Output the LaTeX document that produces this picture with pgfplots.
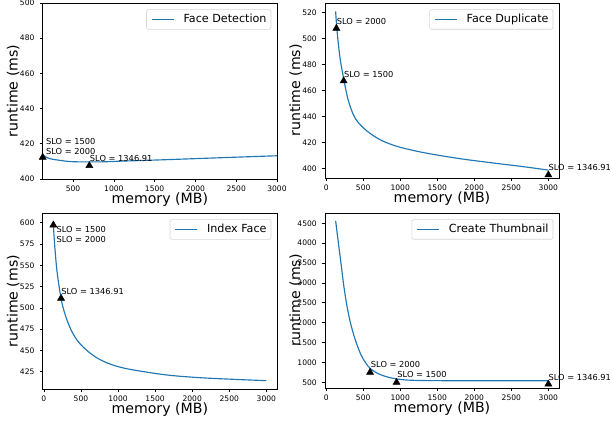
\documentclass[border=0pt]{standalone}
\usepackage{fontspec}
\setmainfont{DejaVu Sans}
\usepackage{pgfplots}
\pgfplotsset{compat=1.18}
\definecolor{mplblue}{HTML}{1F77B4}
\definecolor{legedge}{HTML}{D6D6D6}

\pgfplotsset{
  panel/.style={
    scale only axis,
    anchor=south west,
    axis line style={black, line width=0.65bp},
    tick style={black, line width=0.65bp},
    tick align=outside,
    major tick length=2.7bp,
    tick pos=left,
    tick label style={font=\fontsize{7.6}{9}\selectfont, inner sep=0pt},
    xticklabel style={yshift=-4.4bp},
    yticklabel style={xshift=-5.4bp},
    /pgf/number format/assume math mode=true,
    /pgf/number format/1000 sep={},
    scaled ticks=false,
    xlabel={memory (MB)},
    ylabel={runtime (ms)},
    label style={font=\fontsize{14.2}{16}\selectfont},
    xlabel style={at={(axis description cs:0.5,-0.1155)}, anchor=center},
    ylabel style={at={(axis description cs:-0.1255,0.5)}, anchor=center},
    clip=false,
    legend cell align=left,
    legend image code/.code={\draw[#1] (0bp,0bp) -- (22.4bp,0bp);},
    legend style={at={(0.976,0.964)}, anchor=north east, draw=legedge,
      line width=0.65bp, rounded corners=2.2bp, fill=white,
      inner xsep=4.5bp, inner ysep=4.5bp,
      font=\fontsize{11.2}{13}\selectfont,
      nodes={inner sep=0pt, text height=8.3bp, text depth=2.4bp},
      /tikz/every odd column/.append style={column sep=9bp}},
  },
  curve/.style={mplblue, line width=1.15bp, no markers, smooth, tension=0.55},
  slo/.style={only marks, mark=triangle*, mark size=4.1bp, black, forget plot},
}
\tikzset{ann/.style={anchor=base west, inner sep=0pt, font=\fontsize{8.3}{10}\selectfont}}

\begin{document}
\begin{tikzpicture}
\useasboundingbox (0bp,0bp) rectangle (612bp,421bp);

% top left: Face Detection
\begin{axis}[panel, at={(42.7bp,242bp)}, width=234.3bp, height=176bp,
  xmin=128, xmax=3000, ymin=400, ymax=500,
  xtick={500,1000,1500,2000,2500,3000},
  ytick={400,420,440,460,480,500}]
\addplot[curve] coordinates {
  (128,413.6) (180,412.2) (240,411.3) (310,410.8) (400,410.2) (512,409.8)
  (716,409.7) (900,409.8) (1122,410.2) (1530,410.8) (2140,411.8)
  (2560,412.5) (3000,413.2)};
\addlegendentry{Face Detection}
\addplot[slo] coordinates {(128,412.3) (700,407.6)};
\node[ann] at (axis cs:168,419.5) {SLO = 1500};
\node[ann] at (axis cs:168,414.2) {SLO = 2000};
\node[ann] at (axis cs:705,409.7) {SLO = 1346.91};
\end{axis}

% top right: Face Duplicate
\begin{axis}[panel, at={(325bp,243bp)}, width=234bp, height=175bp,
  xmin=-15.6, xmax=3143.6, ymin=392.5, ymax=527.5,
  xtick={0,500,1000,1500,2000,2500,3000},
  ytick={400,420,440,460,480,500,520}]
\addplot[curve] coordinates {
  (128,521) (140,511) (160,498.5) (190,484) (240,468) (285,455.5)
  (320,448.5) (374,440.5) (430,435.5) (508,430.9) (600,426.6)
  (732,421.9) (850,419) (1000,416.2) (1313,412.1)
  (1760,407.8) (2208,404.4) (2655,401.3) (3000,398.6)};
\addlegendentry{Face Duplicate}
\addplot[slo] coordinates {(138,508) (236,467.4) (3000,394.9)};
\node[ann] at (axis cs:142,511.1) {SLO = 2000};
\node[ann] at (axis cs:240,469.9) {SLO = 1500};
\node[ann] at (axis cs:3000,398.4) {SLO = 1346.91};
\end{axis}

% bottom left: Index Face
\begin{axis}[panel, at={(42.7bp,32bp)}, width=234.3bp, height=176bp,
  xmin=-15.6, xmax=3143.6, ymin=404.7, ymax=611.4,
  xtick={0,500,1000,1500,2000,2500,3000},
  ytick={425,450,475,500,525,550,575,600}]
\addplot[curve] coordinates {
  (128,597) (150,569) (180,541) (232,511) (270,497) (312,485.8)
  (370,473.5) (446,462.3) (530,454) (625,446.7) (730,440.5) (849,435.5)
  (1000,431) (1206,427.1) (1654,421.2) (2101,418)
  (2548,416.1) (3000,414.5)};
\addlegendentry{Index Face}
\addplot[slo] coordinates {(128,597.3) (232,511.2)};
\node[ann] at (axis cs:168,588.3) {SLO = 1500};
\node[ann] at (axis cs:168,577.3) {SLO = 2000};
\node[ann] at (axis cs:234,516) {SLO = 1346.91};
\end{axis}

% bottom right: Create Thumbnail
\begin{axis}[panel, at={(325bp,33bp)}, width=234bp, height=175bp,
  xmin=-15.6, xmax=3143.6, ymin=357, ymax=4759,
  xtick={0,500,1000,1500,2000,2500,3000},
  ytick={500,1000,1500,2000,2500,3000,3500,4000,4500}]
\addplot[curve] coordinates {
  (128,4560) (150,4230) (175,3860) (201,3480) (240,2900) (281,2420)
  (320,2060) (357,1790) (400,1530) (468,1200) (530,1000) (593,850)
  (700,720) (826,635) (950,585) (1094,557) (1300,545) (1600,541)
  (2000,540) (3000,540)};
\addlegendentry{Create Thumbnail}
\addplot[slo] coordinates {(593,751) (950,500) (3000,457)};
\node[ann] at (axis cs:602,867) {SLO = 2000};
\node[ann] at (axis cs:960,615) {SLO = 1500};
\node[ann] at (axis cs:3000,540) {SLO = 1346.91};
\end{axis}
\end{tikzpicture}
\end{document}
